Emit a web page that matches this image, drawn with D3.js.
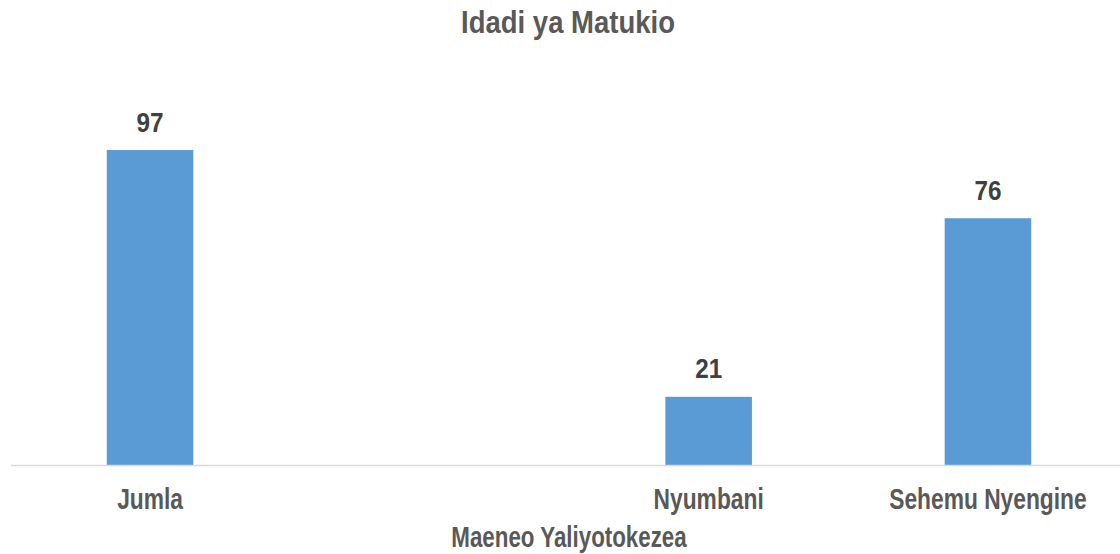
<!DOCTYPE html>
<html>
<head>
<meta charset="utf-8">
<script src="https://cdn.jsdelivr.net/npm/d3@7"></script>
<style>
  body { margin: 0; background: #fff; }
  svg { display: block; font-family: "Liberation Sans", Arial, sans-serif; font-weight: bold; }
</style>
</head>
<body>
<svg id="draw" width="1120" height="554"></svg>
<script>
let categories = ["Jumla", "", "Nyumbani", "Sehemu Nyengine"];
let values = [97, null, 21, 76];
let chartTitle = "Idadi ya Matukio";
let xTitle = "Maeneo Yaliyotokezea";

let svg = d3.select("#draw");

let x = d3.scaleBand()
    .domain(categories)
    .range([10.4, 1127.6])
    .paddingInner(0.69)
    .paddingOuter(0.345);

let y = d3.scaleLinear()
    .domain([0, 100])
    .range([465, 140.3]);

let data = categories.map((c, i) => ({ cat: c, val: values[i] }))
    .filter(d => d.val !== null);

// the original font is a condensed one, squeeze the text horizontally
function squeeze(px, py, s) {
    return "translate(" + px + "," + py + ") scale(" + s + ",1)";
}

svg.append("text")
    .attr("transform", squeeze(568, 33, 0.86))
    .attr("text-anchor", "middle")
    .attr("font-size", 32)
    .attr("fill", "#595959")
    .text(chartTitle);

svg.selectAll("rect.bar")
    .data(data)
    .enter()
    .append("rect")
    .attr("class", "bar")
    .attr("x", d => x(d.cat))
    .attr("width", x.bandwidth())
    .attr("y", d => y(d.val))
    .attr("height", d => y(0) - y(d.val))
    .attr("fill", "#5b9bd5");

svg.selectAll("text.val")
    .data(data)
    .enter()
    .append("text")
    .attr("class", "val")
    .attr("transform", d => squeeze(x(d.cat) + x.bandwidth() / 2, y(d.val) - 18.5, 0.9))
    .attr("text-anchor", "middle")
    .attr("font-size", 27)
    .attr("fill", "#404040")
    .text(d => d.val);

let xAxis = svg.append("g")
    .attr("transform", "translate(0," + y(0) + ")")
    .call(d3.axisBottom(x).tickSize(0));
xAxis.select(".domain")
    .attr("stroke", "#d9d9d9")
    .attr("stroke-width", 1.5);
xAxis.selectAll("text")
    .attr("font-size", 30)
    .attr("font-family", null)
    .attr("fill", "#595959")
    .attr("y", null)
    .attr("dy", null)
    .attr("transform", squeeze(0, 43.5, 0.76));

svg.append("text")
    .attr("transform", squeeze(569, 547, 0.77))
    .attr("text-anchor", "middle")
    .attr("font-size", 29)
    .attr("fill", "#595959")
    .text(xTitle);
</script>
</body>
</html>
